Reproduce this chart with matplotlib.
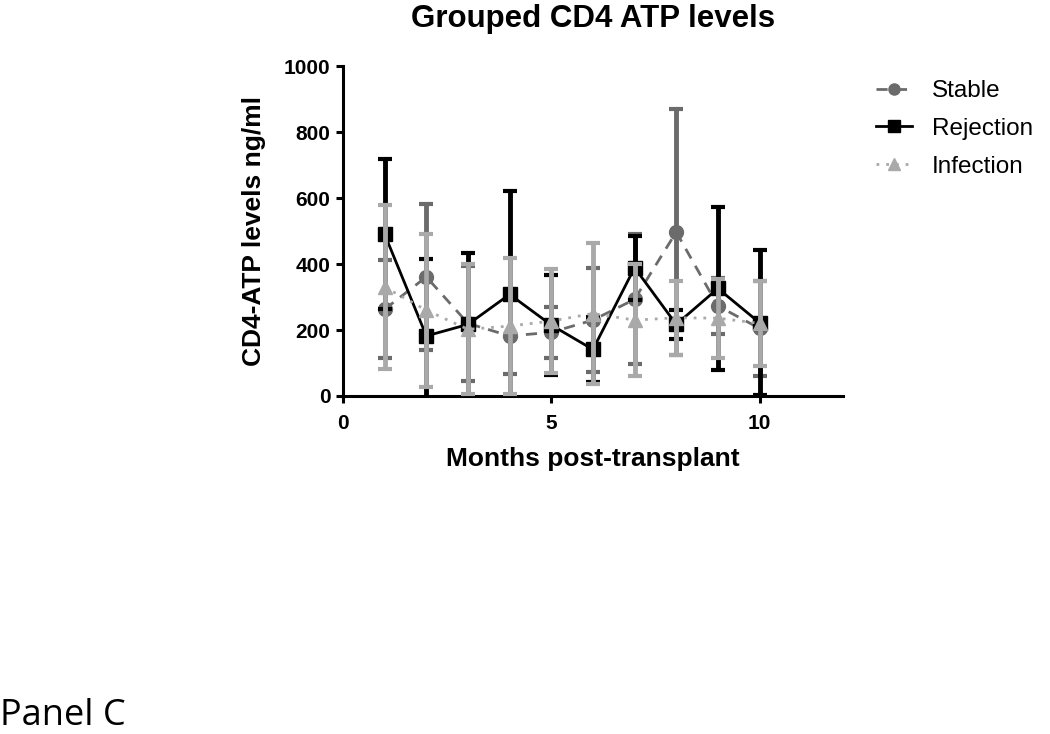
import matplotlib
matplotlib.use("Agg")
import matplotlib.pyplot as plt

months = [1, 2, 3, 4, 5, 6, 7, 8, 9, 10]
stable_mean = [263, 361, 220, 182, 193, 230, 293, 497, 273, 205]
stable_err = [148, 222, 175, 116, 77, 158, 197, 374, 85, 145]
rejection_mean = [490, 182, 217, 308, 215, 141, 389, 217, 326, 222]
rejection_err = [227, 232, 217, 313, 152, 99, 97, 45, 248, 219]
infection_mean = [330, 260, 202, 212, 227, 250, 230, 237, 236, 220]
infection_err = [248, 232, 197, 207, 157, 215, 169, 113, 120, 128]

plt.rcParams['font.family'] = ['Liberation Sans', 'DejaVu Sans']

fig = plt.figure(figsize=(10.5, 7.34), dpi=100)
ax = fig.add_axes([0.3267, 0.4605, 0.476, 0.4495])

series = [
    ("Stable", stable_mean, stable_err, "#6b6b6b", (0, (4, 3)), "o", 10),
    ("Rejection", rejection_mean, rejection_err, "black", "-", "s", 10),
    ("Infection", infection_mean, infection_err, "#a9a9a9", (0, (1, 2.5)), "^", 10),
]
for i, (name, m, e, c, ls, mk, ms) in enumerate(series):
    ax.errorbar(months, m, yerr=e, color=c, ecolor=c, elinewidth=3.5,
                capsize=5, capthick=3, marker=mk, markersize=ms,
                linestyle=ls, linewidth=2, label=name, zorder=2 + i)

ax.set_xlim(0, 12)
ax.set_ylim(0, 1000)
ax.set_xticks([0, 5, 10])
ax.set_yticks([0, 200, 400, 600, 800, 1000])
for s in ["top", "right"]:
    ax.spines[s].set_visible(False)
for s in ["left", "bottom"]:
    ax.spines[s].set_linewidth(2.2)
ax.tick_params(axis="both", width=2.2, length=5, labelsize=15)
ax.tick_params(axis="y", pad=4)
ax.tick_params(axis="x", pad=8)
for lab in ax.get_xticklabels() + ax.get_yticklabels():
    lab.set_fontweight("bold")

ax.set_xlabel("Months post-transplant", fontsize=19, fontweight="bold", labelpad=10)
ax.set_ylabel("CD4-ATP levels ng/ml", fontsize=19, fontweight="bold", labelpad=13)

fig.text(0.5648, 1 - 27 / 734, "Grouped CD4 ATP levels", fontsize=22.5, fontweight="bold",
         ha="center", va="baseline")

handles, labels = ax.get_legend_handles_labels()
handles = [h[0] for h in handles]
leg = fig.legend(handles, labels, loc="upper left", bbox_to_anchor=(0.834, 0.891),
                 frameon=False, fontsize=17.5, handlelength=1.5, handletextpad=0.8,
                 labelspacing=0.65, borderpad=0, borderaxespad=0, markerscale=0.8)

fig.text(0.0, 0.0, "Panel C", fontsize=26, ha="left", va="bottom",
         family=["Open Sans", "DejaVu Sans"])

fig.savefig("out.png", dpi=100)
